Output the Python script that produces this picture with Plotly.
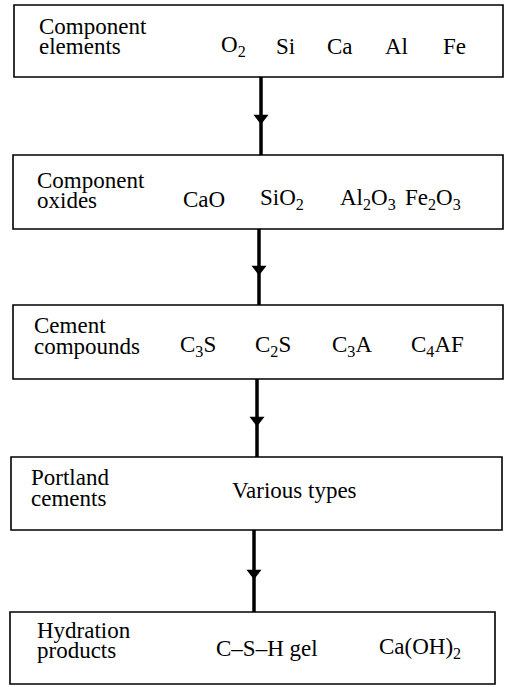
import plotly.graph_objects as go

# ---- content ----
stage_labels = [
    ["Component", "elements"],
    ["Component", "oxides"],
    ["Cement", "compounds"],
    ["Portland", "cements"],
    ["Hydration", "products"],
]
stage_items = [
    ["O<sub>2</sub>", "Si", "Ca", "Al", "Fe"],
    ["CaO", "SiO<sub>2</sub>", "Al<sub>2</sub>O<sub>3</sub>", "Fe<sub>2</sub>O<sub>3</sub>"],
    ["C<sub>3</sub>S", "C<sub>2</sub>S", "C<sub>3</sub>A", "C<sub>4</sub>AF"],
    ["Various types"],
    ["C–S–H gel", "Ca(OH)<sub>2</sub>"],
]

# ---- layout (page-pixel geometry of the diagram) ----
W, H = 505, 687

box_x0 = [14, 13, 13, 11, 10]
box_x1 = [503, 503, 503, 502, 495]
box_y0 = [5, 155, 305, 457, 612]
box_y1 = [77, 229, 379, 530, 684]
label_x = [37, 35, 32, 29, 35]
label_base = [[33, 53], [187, 207], [332, 353], [484, 505], [637, 657]]
item_base = [53, 206, 353, 497, 655]
item_x = [
    [233, 285, 340, 396, 454],
    [204, 282, 368, 433],
    [198, 273, 352, 437],
    [294],
    [267, 420],
]
arrow_x = [261, 259, 257, 254]

FONT = "Liberation Serif, Times New Roman, serif"
FS = 23
OFF = 7  # baseline -> middle offset

fig = go.Figure()
shapes = []
annotations = []

for i in range(len(stage_labels)):
    shapes.append(dict(type="rect", xref="x", yref="y",
                       x0=box_x0[i], x1=box_x1[i], y0=box_y0[i], y1=box_y1[i],
                       line=dict(color="black", width=1.6), fillcolor="rgba(0,0,0,0)"))
    for line_txt, yb in zip(stage_labels[i], label_base[i]):
        annotations.append(dict(x=label_x[i], y=yb - OFF, xref="x", yref="y",
                                text=line_txt, showarrow=False, xanchor="left", yanchor="middle",
                                font=dict(family=FONT, size=FS, color="black")))
    for txt, xc in zip(stage_items[i], item_x[i]):
        annotations.append(dict(x=xc, y=item_base[i] - OFF, xref="x", yref="y",
                                text=txt, showarrow=False, xanchor="center", yanchor="middle",
                                font=dict(family=FONT, size=FS, color="black")))

tri_x, tri_y = [], []
for j, ax in enumerate(arrow_x):
    ya, yb = box_y1[j], box_y0[j + 1]
    shapes.append(dict(type="line", xref="x", yref="y", x0=ax, x1=ax, y0=ya, y1=yb,
                       line=dict(color="black", width=3.5)))
    tri_x.append(ax)
    tri_y.append((ya + yb) / 2 + 2)

fig.add_trace(go.Scatter(x=tri_x, y=tri_y, mode="markers",
                         marker=dict(symbol="triangle-down", size=13, color="black",
                                     line=dict(width=0)),
                         hoverinfo="skip", showlegend=False))

fig.update_layout(
    width=W, height=H,
    margin=dict(l=0, r=0, t=0, b=0),
    paper_bgcolor="white", plot_bgcolor="white",
    shapes=shapes, annotations=annotations,
    xaxis=dict(range=[0, W], visible=False, fixedrange=True),
    yaxis=dict(range=[H, 0], visible=False, fixedrange=True),
    showlegend=False,
)

fig.write_html(
    "out.html",
    config={"displayModeBar": False},
    post_script="document.body.style.margin='0';document.body.style.overflow='hidden';",
)
